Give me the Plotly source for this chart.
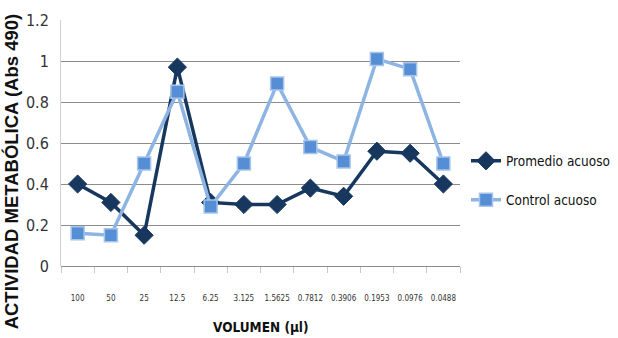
import plotly.graph_objects as go

# Volume dilution series (µl) and metabolic activity readings (Abs 490)
volumenes = ["100", "50", "25", "12.5", "6.25", "3.125", "1.5625",
             "0.7812", "0.3906", "0.1953", "0.0976", "0.0488"]
promedio_acuoso = [0.40, 0.31, 0.15, 0.97, 0.31, 0.30, 0.30, 0.38, 0.34, 0.56, 0.55, 0.40]
control_acuoso = [0.16, 0.15, 0.50, 0.85, 0.29, 0.50, 0.89, 0.58, 0.51, 1.01, 0.96, 0.50]
y_ticks = [0, 0.2, 0.4, 0.6, 0.8, 1, 1.2]
y_tick_text = ["0", "0.2", "0.4", "0.6", "0.8", "1", "1.2"]

FONT = "DejaVu Sans Condensed, Liberation Sans Narrow, Liberation Sans, sans-serif"

fig = go.Figure()
fig.add_trace(go.Scatter(
    x=volumenes, y=promedio_acuoso, name="Promedio acuoso",
    mode="lines+markers", legend="legend",
    line=dict(color="#17375E", width=3.5),
    marker=dict(symbol="diamond", size=14, color="#17375E",
                line=dict(color="#17375E", width=1)),
))
fig.add_trace(go.Scatter(
    x=volumenes, y=control_acuoso, name="Control acuoso",
    mode="lines+markers", legend="legend2",
    line=dict(color="#8DB4E2", width=3.5),
    marker=dict(symbol="square", size=13, color="#558ED5",
                line=dict(color="#A7C4EA", width=1.5)),
))

L, R, T, B = 60.7, 158, 19.5, 71.7
PH = 338 - T - B
PW = 618 - L - R


def py(px):
    return (338 - B - px) / PH


legend_style = dict(
    x=(466 - L) / PW, xanchor="left", yanchor="middle",
    font=dict(family=FONT, size=13.5, color="#111111"),
    itemwidth=30, bgcolor="rgba(0,0,0,0)",
)

fig.update_layout(
    width=618, height=338,
    margin=dict(l=L, r=R, t=T, b=B, pad=0, autoexpand=False),
    paper_bgcolor="white", plot_bgcolor="white",
    font=dict(family=FONT, color="#222222"),
    showlegend=True,
    legend=dict(y=py(161), **legend_style),
    legend2=dict(y=py(200), **legend_style),
    xaxis=dict(
        type="category", categoryorder="array", categoryarray=volumenes,
        showgrid=False, zeroline=False,
        showline=False,
        ticks="outside", ticklen=6, tickcolor="#C8C8C8", tickwidth=1,
        tickson="boundaries", tickangle=0,
        tickfont=dict(family=FONT, size=8, color="#333333"),
        ticklabelstandoff=26,
        range=[-0.5, 11.5],
    ),
    yaxis=dict(
        range=[0, 1.2], tickvals=y_ticks, ticktext=y_tick_text,
        showgrid=True, gridcolor="#8C8C8C", gridwidth=1,
        zeroline=True, zerolinecolor="#8C8C8C", zerolinewidth=1,
        showline=True, linecolor="#CFCFCF", linewidth=1,
        ticks="", tickfont=dict(family=FONT, size=16, color="#333333"),
        ticklabelstandoff=8,
    ),
)

# Axis titles
fig.add_annotation(
    text="<b>VOLUMEN (µl)</b>", xref="paper", yref="paper",
    x=0.5, y=py(327), xanchor="center", yanchor="middle",
    showarrow=False, font=dict(family=FONT, size=13.5, color="#111111"),
)
fig.add_annotation(
    text="<b>ACTIVIDAD METABÓLICA (Abs 490)</b>", xref="paper", yref="paper",
    x=(11 - L) / PW, y=py(171),
    xanchor="center", yanchor="middle", textangle=-90,
    showarrow=False, font=dict(family="Liberation Sans, Arial, sans-serif", size=18.5, color="#111111"),
)

fig.write_html("out.html")
